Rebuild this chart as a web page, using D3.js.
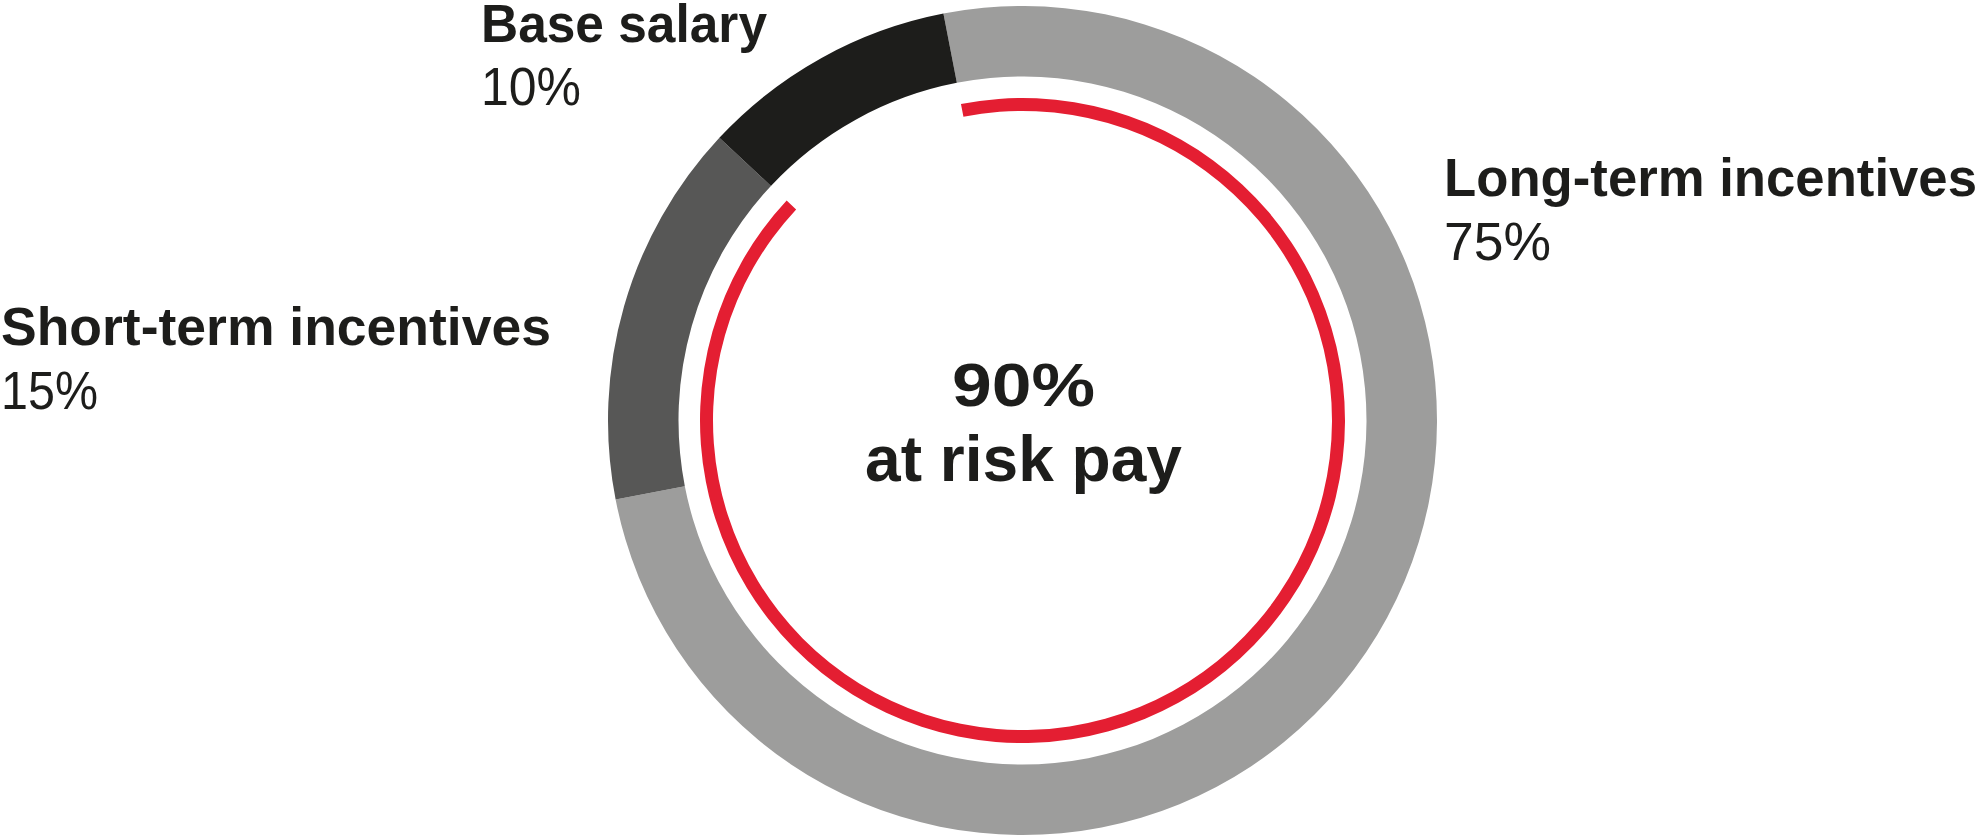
<!DOCTYPE html>
<html>
<head>
<meta charset="utf-8">
<script src="https://d3js.org/d3.v7.min.js"></script>
<style>
  html, body { margin: 0; padding: 0; background: #fff; }
  svg { display: block; }
  text { font-family: "Liberation Sans", Arial, Helvetica, sans-serif; fill: #1d1d1b; }
</style>
</head>
<body>
<svg id="chart"></svg>
<script>
// pay mix
const categories = ['Long-term incentives', 'Short-term incentives', 'Base salary']
const shares = [75, 15, 10]
const segColors = ['#9d9d9c', '#575756', '#1d1d1b']
const atRiskCats = ['Long-term incentives', 'Short-term incentives']
const atRiskLabel = 'at risk pay'

const width = 1981, height = 838
const cx = 1022.5, cy = 420.5
const rOuter = 414.5, rInner = 344
const rRed = 316, redWidth = 13

function dToR(deg) {
  return deg * Math.PI / 180
}

const svg = d3.select('#chart')
    .attr('width', width)
    .attr('height', height)

const start = dToR(-11)
const pie = d3.pie()
    .sort(null)
    .value(d => d)
    .startAngle(start)
    .endAngle(start + 2 * Math.PI)

const slices = pie(shares)

const arc = d3.arc()
    .innerRadius(rInner)
    .outerRadius(rOuter)

const g = svg.append('g')
    .attr('transform', `translate(${cx},${cy})`)

g.selectAll('path.seg')
    .data(slices)
    .enter().append('path')
    .attr('class', 'seg')
    .attr('d', arc)
    .style('fill', (d, i) => segColors[i])

// red band over the at-risk part (LTI + STI)
const riskSlices = slices.filter((d, i) => atRiskCats.includes(categories[i]))
const riskTotal = d3.sum(riskSlices, d => d.value)
const redArc = d3.arc()
    .innerRadius(rRed - redWidth / 2)
    .outerRadius(rRed + redWidth / 2)

g.append('path')
    .attr('d', redArc({
      startAngle: d3.min(riskSlices, d => d.startAngle),
      endAngle: d3.max(riskSlices, d => d.endAngle)
    }))
    .style('fill', '#e41e32')

// labels: title + value, positioned by hand
const labelPos = {
  'Long-term incentives': { x: 1444, y1: 196, y2: 260, w1: 533, w2: 107 },
  'Short-term incentives': { x: 1, y1: 345, y2: 409, w1: 550, w2: 97 },
  'Base salary': { x: 481, y1: 42, y2: 105, w1: 286, w2: 100 }
}

categories.forEach((c, i) => {
  let p = labelPos[c]
  svg.append('text')
      .attr('x', p.x)
      .attr('y', p.y1)
      .attr('textLength', p.w1)
      .attr('lengthAdjust', 'spacingAndGlyphs')
      .style('font-size', '53px')
      .style('font-weight', 'bold')
      .text(c)
  svg.append('text')
      .attr('x', p.x)
      .attr('y', p.y2)
      .attr('textLength', p.w2)
      .attr('lengthAdjust', 'spacingAndGlyphs')
      .style('font-size', '53px')
      .text(shares[i] + '%')
})

// centre text
svg.append('text')
    .attr('x', cx + 1)
    .attr('y', 406)
    .attr('text-anchor', 'middle')
    .attr('textLength', 143)
    .attr('lengthAdjust', 'spacingAndGlyphs')
    .style('font-size', '62px')
    .style('font-weight', 'bold')
    .text(riskTotal + '%')

svg.append('text')
    .attr('x', cx + 1)
    .attr('y', 481)
    .attr('text-anchor', 'middle')
    .attr('textLength', 317)
    .attr('lengthAdjust', 'spacingAndGlyphs')
    .style('font-size', '64px')
    .style('font-weight', 'bold')
    .text(atRiskLabel)
</script>
</body>
</html>
